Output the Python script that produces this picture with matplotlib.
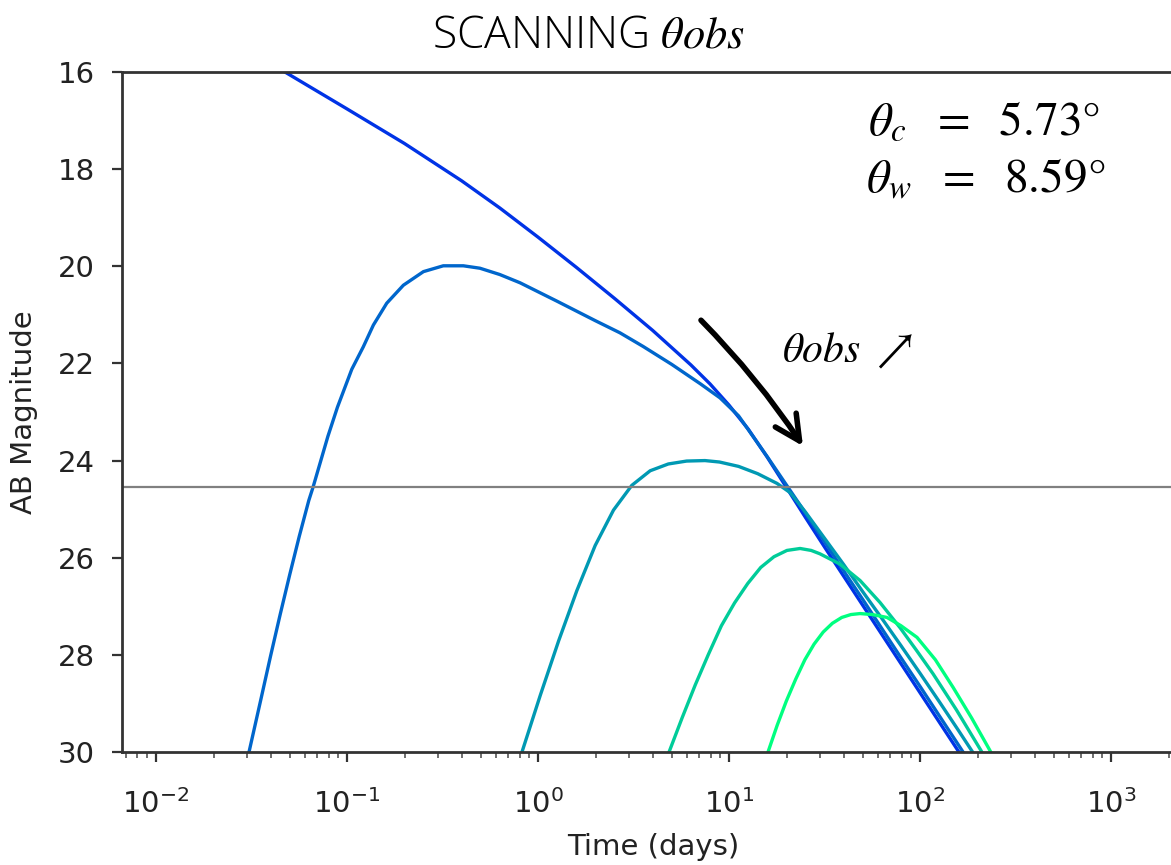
import numpy as np
import matplotlib
matplotlib.use('Agg')
import matplotlib.pyplot as plt

# light curves for increasing viewing angle (log10 of time in days, AB mag)
logt_0 = [-1.6, -1.325, -1.0, -0.7, -0.4, -0.2, 0.0, 0.2, 0.4, 0.6, 0.8, 0.9,
          1.0, 1.1, 1.2, 1.3, 1.4, 1.5, 1.6, 1.7, 1.8, 1.9, 2.0, 2.1, 2.2, 2.3]
mag_0 = [15.35, 16.0, 16.76, 17.47, 18.24, 18.8, 19.4, 20.02, 20.66, 21.32,
         22.03, 22.42, 22.86, 23.35, 23.93, 24.55, 25.17, 25.78, 26.38, 26.98,
         27.58, 28.18, 28.78, 29.38, 29.98, 30.58]

logt_1 = [-1.55, -1.513, -1.45, -1.40, -1.35, -1.30, -1.25, -1.20, -1.178, -1.10,
          -1.05, -1.0, -0.975, -0.915, -0.862, -0.792, -0.705, -0.6, -0.496,
          -0.391, -0.304, -0.2, -0.094, 0.1, 0.2, 0.3, 0.429, 0.55, 0.7, 0.85,
          0.953, 1.05, 1.1, 1.2, 1.3, 1.4, 1.5, 1.6, 1.7, 1.8, 1.9, 2.0, 2.1,
          2.2, 2.3]
mag_1 = [30.6, 30.0, 28.9, 28.02, 27.17, 26.35, 25.56, 24.82, 24.55, 23.5,
         22.9, 22.38, 22.12, 21.66, 21.21, 20.76, 20.39, 20.11, 19.99,
         19.99, 20.04, 20.17, 20.34, 20.72, 20.92, 21.12, 21.37, 21.65, 22.02,
         22.42, 22.71, 23.08, 23.36, 23.92, 24.5, 25.08, 25.67, 26.27, 26.86,
         27.46, 28.06, 28.65, 29.25, 29.85, 30.45]

logt_2 = [-0.12, -0.084, 0.012, 0.108, 0.203, 0.299, 0.395, 0.491, 0.587, 0.682,
          0.778, 0.874, 0.95, 1.05, 1.15, 1.251, 1.32, 1.4, 1.5, 1.6, 1.7, 1.8,
          1.9, 2.0, 2.1, 2.2, 2.3]
mag_2 = [30.6, 30.0, 28.83, 27.71, 26.68, 25.75, 25.02, 24.51, 24.21, 24.07,
         24.01, 24.0, 24.03, 24.12, 24.27, 24.47, 24.66, 25.06, 25.6, 26.14,
         26.7, 27.25, 27.81, 28.38, 28.96, 29.55, 30.15]

logt_3 = [0.65, 0.686, 0.755, 0.823, 0.892, 0.96, 1.029, 1.098, 1.166, 1.235,
          1.303, 1.372, 1.43, 1.476, 1.58, 1.686, 1.79, 1.895, 1.98, 2.068,
          2.19, 2.319, 2.38]
mag_3 = [30.6, 30.0, 29.29, 28.62, 27.99, 27.4, 26.93, 26.53, 26.2, 25.98,
         25.85, 25.81, 25.85, 25.92, 26.13, 26.47, 26.92, 27.44, 27.9, 28.39,
         29.13, 29.97, 30.4]

logt_4 = [1.17, 1.204, 1.252, 1.3, 1.349, 1.397, 1.445, 1.493, 1.541, 1.59,
          1.638, 1.686, 1.75, 1.827, 1.9, 1.984, 2.08, 2.173, 2.27, 2.366, 2.42]
mag_4 = [30.6, 30.0, 29.45, 28.95, 28.5, 28.1, 27.78, 27.53, 27.35, 27.23,
         27.17, 27.15, 27.17, 27.23, 27.4, 27.64, 28.1, 28.67, 29.3, 29.97, 30.4]

curves = [(logt_0, mag_0), (logt_1, mag_1), (logt_2, mag_2),
          (logt_3, mag_3), (logt_4, mag_4)]
color_pos = [0.2, 0.4, 0.6, 0.8, 1.0]

detection_limit = 24.55
theta_c = 5.73
theta_w = 8.59

fig = plt.figure(figsize=(11.71, 8.65), dpi=100)
ax = fig.add_axes([122 / 1171, 1 - 752 / 865, 1063 / 1171, 680 / 865])

for (lt, m), c in zip(curves, color_pos):
    ax.plot(10 ** np.array(lt), m, color=plt.cm.winter(c), lw=2.4)

ax.axhline(detection_limit, color='#808080', lw=1.6)

ax.set_xscale('log')
ax.set_xlim(10 ** -2.178, 10 ** 3.387)
ax.set_ylim(30, 16)
ax.set_yticks([16, 18, 20, 22, 24, 26, 28, 30])

for s in ax.spines.values():
    s.set_color('#333333')
    s.set_linewidth(2.0)

ax.tick_params(which='major', length=7.5, width=1.6, color='#333333',
               labelsize=21, labelcolor='#222222')
ax.tick_params(axis='y', pad=12)
ax.tick_params(axis='x', which='major', pad=19)
ax.tick_params(which='minor', length=4.5, width=1.2, color='#555555')

ax.set_xlabel('Time (days)', fontsize=21, color='#222222')
ax.set_ylabel('AB Magnitude', fontsize=21, color='#222222')
ax.xaxis.set_label_coords(0.5, -(833 - 752) / 680)
ax.yaxis.set_label_coords(-(122 - 38) / 1063, 0.5)

fig.text(589 / 1171, 1 - 48 / 865, r'SCANNING $\theta obs$', ha='center',
         va='baseline', fontsize=32, family='Open Sans', fontweight='light',
         math_fontfamily='stix')

fig.text(868 / 1171, 1 - 135 / 865, r'$\theta_c\ \ =\ \ %.2f°$' % theta_c,
         fontsize=34, math_fontfamily='stix', va='baseline')
fig.text(866 / 1171, 1 - 192 / 865, r'$\theta_w\ \ =\ \ %.2f°$' % theta_w,
         fontsize=34, math_fontfamily='stix', va='baseline')

# arrow indicating increasing viewing angle
ax.annotate('', xy=(10 ** 1.395, 23.75), xytext=(10 ** 0.843, 21.07),
            arrowprops=dict(arrowstyle='->', lw=4, color='black',
                            mutation_scale=45,
                            connectionstyle='arc3,rad=-0.05'))
ax.text(10 ** 1.277, 21.97, r'$\theta obs\ \nearrow$', fontsize=30,
        math_fontfamily='stix', va='baseline')

fig.savefig('out.png', dpi=100)
